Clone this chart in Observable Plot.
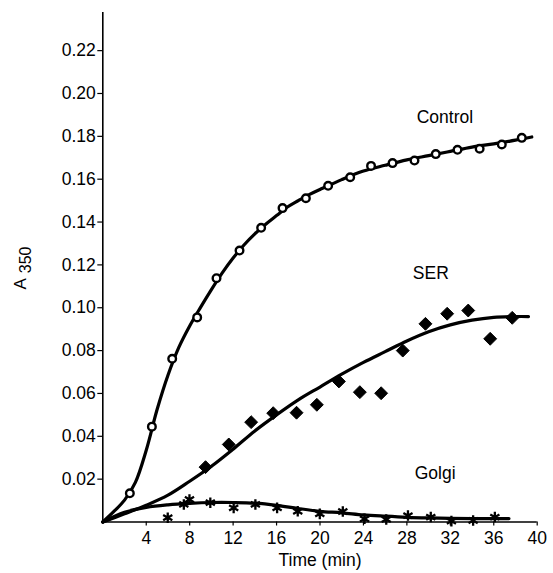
<!DOCTYPE html>
<html>
<head>
<meta charset="utf-8">
<script src="https://cdn.jsdelivr.net/npm/d3@7"></script>
<script src="https://cdn.jsdelivr.net/npm/@observablehq/plot@0.6"></script>
<style>
  body { margin: 0; background: #fff; }
  #chart { width: 553px; height: 573px; }
</style>
</head>
<body>
<div id="chart"></div>
<script>
// Measured data points
const controlT = [2.49, 4.52, 6.39, 8.69, 10.47, 12.59, 14.58, 16.55, 18.7, 20.75, 22.78, 24.7, 26.68, 28.7, 30.66, 32.66, 34.7, 36.74, 38.58];
const controlA = [0.0134, 0.0445, 0.0762, 0.0955, 0.1138, 0.1267, 0.1373, 0.1465, 0.1511, 0.1569, 0.1609, 0.1662, 0.1675, 0.1687, 0.1717, 0.1737, 0.1742, 0.1762, 0.1793];

const serT = [9.46, 11.6, 13.66, 15.69, 17.84, 19.71, 21.74, 23.67, 25.63, 27.62, 29.71, 31.71, 33.65, 35.67, 37.7];
const serA = [0.0256, 0.0362, 0.0466, 0.0508, 0.0510, 0.0547, 0.0656, 0.0606, 0.0601, 0.0800, 0.0925, 0.0972, 0.0987, 0.0855, 0.0953];

const golgiT = [5.98, 7.46, 7.98, 9.9, 12.05, 14.05, 16.05, 17.95, 19.98, 22.1, 24.1, 26.1, 28.1, 30.2, 32.1, 34.1, 36.1];
const golgiA = [0.0020, 0.0082, 0.0105, 0.0090, 0.0066, 0.0082, 0.0066, 0.0050, 0.0038, 0.0049, 0.0015, 0.0012, 0.0030, 0.0023, 0.0004, 0.0007, 0.0023];

// Fitted curves
const controlFitT = [0, 1, 2, 3, 4, 5, 6, 7, 8, 9, 10, 11, 12, 13, 14, 15, 16, 17, 18, 19, 20, 22, 24, 26, 28, 30, 32, 34, 36, 38, 39.5];
const controlFitA = [0, 0.0048, 0.0102, 0.0185, 0.0335, 0.0525, 0.0685, 0.0815, 0.0915, 0.1002, 0.1085, 0.1163, 0.1232, 0.1293, 0.1345, 0.139, 0.143, 0.147, 0.150, 0.1528, 0.1552, 0.1598, 0.1638, 0.1665, 0.169, 0.171, 0.173, 0.175, 0.1765, 0.1782, 0.1797];

const serFitT = [0, 2, 4, 6, 8, 10, 12, 14, 16, 18, 20, 22, 24, 26, 28, 30, 32, 34, 36, 38, 39.2];
const serFitA = [0, 0.0038, 0.0078, 0.0125, 0.019, 0.026, 0.034, 0.0425, 0.050, 0.057, 0.063, 0.069, 0.0745, 0.0795, 0.0845, 0.0888, 0.092, 0.0942, 0.0955, 0.0959, 0.0959];

const golgiFitT = [0, 2, 4, 6, 8, 10, 12, 14, 16, 18, 20, 22, 24, 26, 28, 30, 32, 34, 36, 37.4];
const golgiFitA = [0, 0.0045, 0.0068, 0.0080, 0.0087, 0.0091, 0.0091, 0.0088, 0.0078, 0.0063, 0.0050, 0.0043, 0.0033, 0.0027, 0.0022, 0.0019, 0.0017, 0.0016, 0.0016, 0.0016];

const seriesLabels = ["Control", "SER", "Golgi"];
const labelT = [31.5, 30.2, 30.6];
const labelA = [0.1888, 0.1161, 0.0225];

const xTicks = [4, 8, 12, 16, 20, 24, 28, 32, 36, 40];
const yTicks = [0.02, 0.04, 0.06, 0.08, 0.10, 0.12, 0.14, 0.16, 0.18, 0.20, 0.22];

const zip = (ts, as) => ts.map((t, i) => ({t, a: as[i]}));
const control = zip(controlT, controlA);
const ser = zip(serT, serA);
const golgi = zip(golgiT, golgiA);
const controlFit = zip(controlFitT, controlFitA);
const serFit = zip(serFitT, serFitA);
const golgiFit = zip(golgiFitT, golgiFitA);
const labels = seriesLabels.map((s, i) => ({s, t: labelT[i], a: labelA[i]}));

const font = "'Liberation Sans', Arial, Helvetica, sans-serif";
const fs = 17.5;

const plot = Plot.plot({
  width: 553,
  height: 573,
  marginLeft: 102.3,
  marginRight: 16.3,
  marginTop: 12,
  marginBottom: 51.5,
  style: {fontFamily: font, fontSize: fs + "px", color: "#000", background: "#fff"},
  x: {domain: [0, 40]},
  y: {domain: [0, 0.2378]},
  marks: [
    Plot.axisX({ticks: xTicks, tickSize: 4, tickPadding: 6, tickFormat: d => String(d), label: "Time (min)", labelAnchor: "center", labelArrow: "none", labelOffset: 44, fontSize: fs, strokeWidth: 1.2}),
    Plot.axisY({ticks: yTicks, tickSize: 5, tickPadding: 2, tickFormat: d3.format(".2f"), label: null, fontSize: fs, strokeWidth: 1.2}),
    Plot.ruleX([0], {stroke: "#000", strokeWidth: 1.6}),
    Plot.ruleY([0], {stroke: "#000", strokeWidth: 1.6}),
    Plot.line(controlFit, {x: "t", y: "a", curve: "catmull-rom", stroke: "#000", strokeWidth: 3.2}),
    Plot.line(serFit, {x: "t", y: "a", curve: "catmull-rom", stroke: "#000", strokeWidth: 3.2}),
    Plot.line(golgiFit, {x: "t", y: "a", curve: "catmull-rom", stroke: "#000", strokeWidth: 3.2}),
    Plot.dot(control, {x: "t", y: "a", r: 3.8, fill: "#fff", stroke: "#000", strokeWidth: 2.4}),
    Plot.dot(ser, {x: "t", y: "a", symbol: "diamond2", r: 5.8, fill: "#000", stroke: "#000", strokeWidth: 1}),
    Plot.dot(golgi, {x: "t", y: "a", symbol: "asterisk", r: 5, stroke: "#000", strokeWidth: 2.3}),
    Plot.text(labels, {x: "t", y: "a", text: "s", fontSize: fs, fill: "#000"})
  ]
});

const svg = d3.select(plot);
// y axis label "A 350" with subscript
const yl = svg.append("text")
  .attr("transform", "translate(26,268) rotate(-90)")
  .attr("font-family", font)
  .attr("fill", "#000")
  .attr("text-anchor", "middle");
yl.append("tspan").attr("font-size", 17).text("A");
yl.append("tspan").attr("font-size", 16).attr("dx", 5).attr("dy", 5).text("350");

document.getElementById("chart").appendChild(plot);
</script>
</body>
</html>
